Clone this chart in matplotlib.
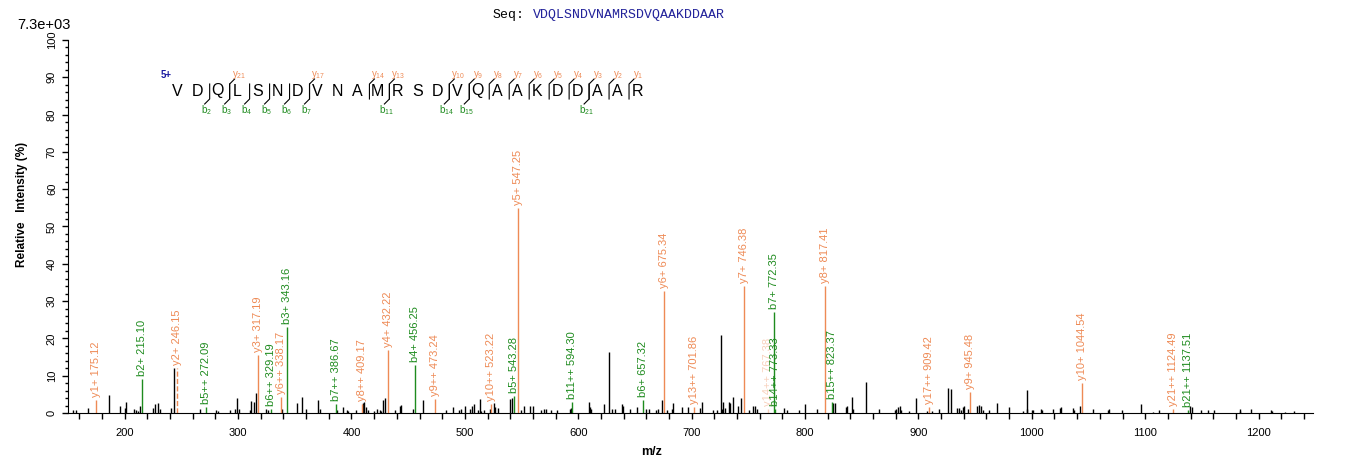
import matplotlib
matplotlib.use("Agg")
import matplotlib.pyplot as plt
import numpy as np

plt.rcParams["font.family"] = ["Liberation Sans", "DejaVu Sans"]

# unmatched peaks (m/z, relative intensity %)
noise_mz = [154.4, 157.4, 167.6, 186.1, 195.9, 200.0, 201.2, 207.9, 209.7, 211.8,
            213.5, 225.0, 226.5, 229.7, 231.2, 240.6, 243.5, 266.2, 280.9, 282.0,
            292.6, 297.7, 299.1, 301.2, 310.9, 311.4, 314.1, 315.6, 325.0, 326.2,
            339.1, 352.1, 356.5, 359.7, 370.9, 372.0, 387.6, 392.6, 396.1, 397.0,
            404.4, 410.3, 411.2, 412.6, 414.7, 420.0, 422.1, 425.0, 426.0, 427.9,
            429.4, 438.2, 442.6, 443.5, 454.3, 463.1, 483.2, 489.4, 494.7, 496.5,
            499.7, 504.7, 506.2, 508.2, 511.8, 513.2, 514.4, 516.8, 522.1, 525.3,
            526.5, 528.8, 539.7, 541.2, 549.1, 551.8, 557.4, 559.7, 566.8, 570.0,
            571.2, 575.9, 581.5, 592.7, 593.6, 609.1, 610.0, 611.5, 622.9, 626.8,
            629.4, 632.4, 638.3, 639.4, 645.6, 651.5, 659.7, 662.6, 668.3, 670.0,
            673.5, 678.0, 682.4, 683.8, 691.2, 697.1, 707.4, 709.4, 719.1, 722.1,
            725.9, 727.0, 728.0, 729.1, 733.2, 734.1, 736.8, 740.6, 743.3, 750.3,
            754.4, 755.9, 757.4, 781.4, 783.8, 795.0, 800.3, 810.6, 825.0, 826.2,
            835.9, 837.4, 841.2, 842.7, 853.9, 865.6, 879.2, 880.3, 881.8, 883.8,
            885.0, 892.0, 897.7, 907.3, 911.8, 918.2, 925.9, 928.5, 934.4, 935.9,
            937.6, 939.2, 940.6, 943.5, 951.5, 953.5, 955.3, 957.4, 962.6, 969.1,
            979.7, 992.6, 995.6, 996.2, 1000.3, 1001.0, 1007.9, 1008.6, 1019.1, 1025.0,
            1025.9, 1036.2, 1037.6, 1042.6, 1054.4, 1067.6, 1068.5, 1079.4, 1095.9, 1106.8,
            1112.6, 1139.7, 1141.4, 1149.1, 1155.8, 1160.3, 1183.2, 1184.0, 1193.3, 1210.9,
            1212.1, 1223.0, 1231.0]
noise_int = [0.7, 0.8, 1.3, 4.7, 2.0, 1.3, 3.0, 1.0, 0.8, 0.6,
             2.0, 1.3, 2.4, 2.8, 1.0, 1.4, 12.0, 1.0, 0.8, 0.6,
             0.7, 1.1, 4.0, 1.0, 0.9, 3.3, 2.9, 5.3, 1.0, 0.8,
             1.0, 2.6, 4.3, 1.0, 3.6, 1.0, 0.7, 1.7, 0.7, 0.6,
             0.9, 2.6, 3.0, 1.7, 0.9, 0.5, 1.0, 0.9, 0.6, 3.6,
             3.9, 0.9, 1.8, 2.1, 1.0, 3.6, 0.9, 1.6, 0.9, 1.0,
             2.0, 1.0, 1.8, 2.3, 0.9, 3.7, 0.6, 0.9, 1.1, 2.6,
             1.5, 1.3, 3.7, 4.0, 0.7, 2.0, 2.0, 2.0, 0.9, 1.2,
             1.0, 0.9, 0.9, 1.1, 1.4, 3.0, 1.7, 1.0, 2.3, 16.4,
             1.0, 1.2, 2.3, 1.8, 1.0, 1.7, 1.0, 1.0, 0.9, 1.1,
             3.6, 0.9, 1.1, 2.7, 1.6, 1.6, 1.4, 3.0, 0.9, 0.7,
             20.8, 1.2, 3.0, 1.4, 3.0, 2.8, 4.4, 2.0, 4.1, 0.7,
             2.0, 2.0, 1.0, 1.4, 0.7, 0.9, 2.3, 1.2, 2.6, 2.6,
             1.6, 2.0, 4.3, 1.0, 8.3, 1.0, 0.7, 1.1, 1.7, 2.0,
             0.9, 0.6, 4.0, 0.6, 0.6, 1.0, 6.7, 6.5, 1.3, 1.3,
             0.9, 1.6, 1.9, 1.1, 1.8, 2.1, 1.8, 0.7, 0.7, 2.6,
             1.6, 0.6, 6.3, 1.2, 0.7, 0.7, 1.1, 0.8, 1.0, 1.3,
             1.6, 1.4, 0.7, 1.8, 1.0, 0.9, 1.1, 0.7, 2.3, 0.4,
             0.9, 1.8, 1.6, 0.7, 0.7, 0.7, 1.0, 0.6, 1.0, 0.7,
             0.5, 0.4, 0.5]

# matched fragment ions
ion_names = ["y1+", "b2+", "y2+", "b5++", "y3+", "b6++", "y6++", "b3+", "b7++", "y8++",
             "y4+", "b4+", "y9++", "y10++", "b5+", "y5+", "b11++", "b6+", "y6+", "y13++",
             "y7+", "y14++", "b7+", "b14++", "y8+", "b15++", "y17++", "y9+", "y10+",
             "y21++", "b21++"]
ion_mz = [175.12, 215.10, 246.15, 272.09, 317.19, 329.19, 338.17, 343.16, 386.67, 409.17,
          432.22, 456.25, 473.24, 523.22, 543.28, 547.25, 594.30, 657.32, 675.34, 701.86,
          746.38, 767.38, 772.35, 773.33, 817.41, 823.37, 909.42, 945.48, 1044.54,
          1124.49, 1137.51]
ion_int = [3.5, 9.0, 12.0, 1.5, 15.5, 1.0, 4.4, 23.0, 2.4, 2.4,
           17.0, 13.0, 3.7, 2.3, 4.5, 55.0, 2.9, 3.5, 32.7, 1.7,
           34.0, 1.0, 27.0, 1.0, 34.0, 2.9, 1.6, 5.5, 8.0,
           1.0, 0.8]

sequence = "VDQLSNDVNAMRSDVQAAKDDAAR"
b_marks = [2, 3, 4, 5, 6, 7, 11, 14, 15, 21]
y_marks = [21, 17, 14, 13, 10, 9, 8, 7, 6, 5, 4, 3, 2, 1]

ORANGE = "#EE8A55"
GREEN = "#1E8B1E"

W, H = 1362, 473
fig = plt.figure(figsize=(W / 100, H / 100), dpi=100)
L, R, T, B = 68, 1313, 40, 413
ax = fig.add_axes([L / W, 1 - B / H, (R - L) / W, (B - T) / H])

ax.vlines(noise_mz, 0, noise_int, color="black", lw=1)
for name, mz, inten in zip(ion_names, ion_mz, ion_int):
    col = GREEN if name.startswith("b") else ORANGE
    ls = "--" if name == "y2+" else "-"
    alpha = 0.4 if name == "y14++" else 1
    ax.vlines(mz, 0, inten, color=col, lw=1, ls=ls, alpha=alpha)
    ax.annotate(f"{name} {mz:.2f}", (mz, inten), xytext=(0, 3), textcoords="offset pixels",
                rotation=90, ha="center", va="bottom", fontsize=8, color=col, alpha=alpha)

ax.set_xlim(150, 1248)
ax.set_ylim(0, 100)
ax.set_xticks(np.arange(200, 1201, 100))
ax.set_xticks(np.arange(160, 1248, 20), minor=True)
ax.set_yticks(np.arange(0, 101, 10))
ax.set_yticks(np.arange(0, 101, 2), minor=True)
ax.tick_params(axis="x", which="both", length=4.5, width=1, labelsize=8, pad=6)
ax.tick_params(axis="y", which="major", length=4.5, width=1, labelsize=8, labelrotation=90)
ax.tick_params(axis="y", which="minor", length=2.5, width=1)
for lab in ax.get_yticklabels():
    lab.set_va("center")
for s in ["top", "right"]:
    ax.spines[s].set_visible(False)

# peptide fragmentation map (positions in image pixels -> axes fraction)
def to_ax(px, py):
    return (px - L) / (R - L), (B - py) / (B - T)

n = len(sequence)
for i, aa in enumerate(sequence):
    ax.text(*to_ax(177.7 + 19.97 * i, 91), aa, transform=ax.transAxes,
            ha="center", va="center", fontsize=11.5)
ax.text(*to_ax(166, 75), "5+", transform=ax.transAxes, ha="center", va="center",
        fontsize=7, color="#1a1aa0", fontweight="bold")
for k in b_marks:
    xm = 177.7 + 19.97 * (k - 1) + 12
    xs, ys = zip(to_ax(xm, 84), to_ax(xm, 99), to_ax(xm - 5, 104))
    ax.plot(xs, ys, transform=ax.transAxes, color="black", lw=0.8)
    ax.text(*to_ax(xm - 3, 110), rf"$\mathregular{{b_{{{k}}}}}$", transform=ax.transAxes,
            ha="center", va="center", fontsize=7, color=GREEN)
for k in y_marks:
    xm = 177.7 + 19.97 * (n - k - 1) + 12
    xs, ys = zip(to_ax(xm + 5, 79), to_ax(xm, 84), to_ax(xm, 99))
    ax.plot(xs, ys, transform=ax.transAxes, color="black", lw=0.8)
    ax.text(*to_ax(xm + 9, 75), rf"$\mathregular{{y_{{{k}}}}}$", transform=ax.transAxes,
            ha="center", va="center", fontsize=7, color=ORANGE)

fig.text(17 / W, 1 - 25 / H, "7.3e+03", ha="left", va="center", fontsize=10.5)
fig.text(493 / W, 1 - 15 / H, "Seq:", ha="left", va="center", fontsize=9.5,
         family="Liberation Mono")
fig.text(533 / W, 1 - 15 / H, sequence, ha="left", va="center", fontsize=9.5,
         family="Liberation Mono", color="#22229a")
fig.text(22 / W, 1 - 204 / H, "Relative   Intensity (%)", rotation=90, ha="center",
         va="center", fontsize=8.5, fontweight="bold")
fig.text(652 / W, 1 - 452 / H, "m/z", ha="center", va="center", fontsize=9,
         fontweight="bold")

fig.savefig("out.png", dpi=100)
